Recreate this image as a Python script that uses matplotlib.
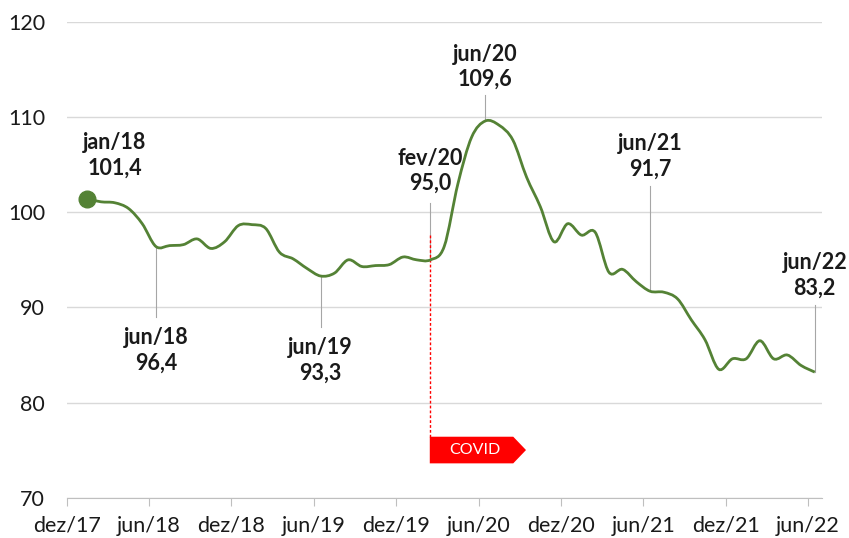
import numpy as np
import matplotlib.pyplot as plt
from matplotlib.path import Path
from matplotlib.patches import PathPatch, Polygon

plt.rcParams['font.family'] = ['Lato', 'DejaVu Sans']

# indice mensal, jan/18 a jun/22
valores = [101.4, 101.1, 101.0, 100.4, 98.8, 96.4, 96.5, 96.6, 97.2, 96.2, 96.9, 98.6,
           98.7, 98.3, 95.8, 95.1, 94.1, 93.3, 93.6, 95.0, 94.3, 94.4, 94.5, 95.3,
           95.0, 95.0, 96.4, 103.0, 107.9, 109.6, 109.15, 107.6, 103.7, 100.6, 96.9, 98.8,
           97.6, 97.9, 93.7, 94.0, 92.7, 91.7, 91.6, 90.9, 88.7, 86.6, 83.5, 84.6,
           84.6, 86.5, 84.6, 85.0, 83.9, 83.2]
rotulos_x = ['dez/17', 'jun/18', 'dez/18', 'jun/19', 'dez/19',
             'jun/20', 'dez/20', 'jun/21', 'dez/21', 'jun/22']
yticks = [70, 80, 90, 100, 110, 120]

# pontos destacados
destaque_idx = [0, 5, 17, 25, 29, 41, 53]
destaque_nome = ['jan/18', 'jun/18', 'jun/19', 'fev/20', 'jun/20', 'jun/21', 'jun/22']

verde = '#548235'
cinza = '#a6a6a6'
texto = '#1a1a1a'

# x: meses contados a partir do inicio de dez/17, ponto no meio do mes
x = np.arange(len(valores)) + 1.5
y = np.array(valores)

fig = plt.figure(figsize=(8.49, 5.38), dpi=100)
ax = fig.add_axes([0.0786, 0.0749, 0.8892, 0.8842])

# linha suavizada (catmull-rom -> bezier)
P = np.column_stack([x, y])
Pp = np.vstack([P[0], P, P[-1]])
verts = [P[0]]
codes = [Path.MOVETO]
for i in range(len(P) - 1):
    p0, p1, p2, p3 = Pp[i], Pp[i + 1], Pp[i + 2], Pp[i + 3]
    c1 = p1 + (p2 - p0) / 6
    c2 = p2 - (p3 - p1) / 6
    verts += [c1, c2, p2]
    codes += [Path.CURVE4] * 3
ax.add_patch(PathPatch(Path(verts, codes), fill=False, ec=verde, lw=2, zorder=3))
ax.plot(x[0], y[0], 'o', color=verde, ms=12, zorder=4)

# rotulos: (x do texto, y do centro do texto, topo da linha guia)
pos_txt = [(3.5, 106.0, None), (6.5, 85.5, 88.96), (18.5, 84.45, 87.93),
           (26.5, 104.37, 101.0), (30.5, 115.3, 112.3), (42.5, 105.9, 102.74),
           (54.5, 93.37, 90.24)]
for k, (i, nome) in enumerate(zip(destaque_idx, destaque_nome)):
    tx, ty, guia = pos_txt[k]
    lab = nome + '\n' + ('%.1f' % valores[i]).replace('.', ',')
    ax.text(tx, ty, lab, ha='center', va='center', fontsize=15.5,
            fontweight='bold', color=texto, linespacing=1.25, zorder=5)
    if guia is not None:
        ax.plot([x[i], x[i]], [valores[i], guia], color=cinza, lw=0.8, zorder=2)

# marcador covid
xc = 26.45
ax.plot([xc, xc], [97.6, 76.4], color='red', lw=1, ls=(0, (2, 1.5)), zorder=2)
ax.add_patch(Polygon([(xc, 76.41), (32.53, 76.41), (33.46, 75.01),
                      (32.53, 73.61), (xc, 73.61)], closed=True,
                     fc='#ff0000', ec='none', zorder=3))
ax.text(29.7, 75.0, 'COVID', color='white', fontsize=11.5, ha='center',
        va='center', zorder=4)

ax.set_xlim(0, 55)
ax.set_ylim(70, 120)
ax.set_xticks(np.arange(0, 55, 6))
ax.set_xticklabels(rotulos_x)
ax.set_yticks(yticks)
ax.grid(axis='y', color='#d9d9d9', lw=1)
ax.set_axisbelow(True)
for s in ['top', 'right', 'left']:
    ax.spines[s].set_visible(False)
ax.spines['bottom'].set_color('#bfbfbf')
ax.spines['bottom'].set_zorder(1)
ax.tick_params(axis='y', length=0, pad=15.5, labelsize=15.5, labelcolor=texto)
ax.tick_params(axis='x', direction='out', length=6, color='#bfbfbf', pad=7,
               labelsize=15.5, labelcolor=texto)

fig.savefig('out.png', dpi=100)
